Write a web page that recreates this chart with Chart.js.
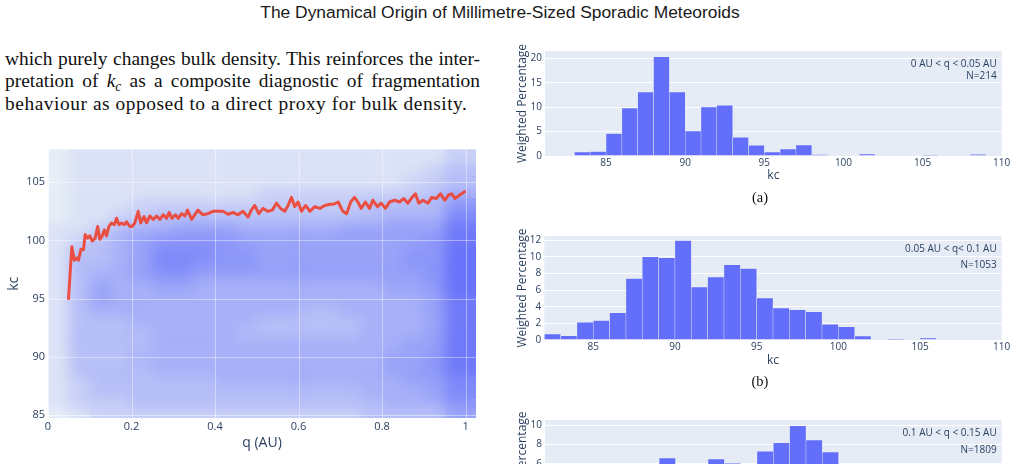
<!DOCTYPE html>
<html>
<head>
<meta charset="utf-8">
<script src="https://cdn.jsdelivr.net/npm/chart.js@4.4.1/dist/chart.umd.min.js"></script>
<style>
  html, body { margin: 0; padding: 0; background: #fff; }
  body { width: 1016px; height: 464px; overflow: hidden; position: relative; }
  canvas { position: absolute; }
  #title { position: absolute; left: 0; top: 2px; width: 1000px; text-align: center;
           font: 17.4px/20px "Liberation Sans", sans-serif; color: #1a1a1a; }
  .ln { position: absolute; left: 5px; white-space: nowrap; color: #111;
        font: 19.4px/22px "Liberation Serif", serif; }
  .just { text-align: justify; text-align-last: justify; }
  .ln sub { font-size: 70%; line-height: 0; vertical-align: -0.3em; }
  .cap { position: absolute; width: 60px; text-align: center; font: 14.5px/16px "Liberation Serif", serif; color: #111; }
</style>
</head>
<body>
<div id="title">The Dynamical Origin of Millimetre-Sized Sporadic Meteoroids</div>
<div class="ln just" style="top:47.5px;width:475px">which purely changes bulk density. This reinforces the inter-</div>
<div class="ln just" style="top:70px;width:475px">pretation of <i>k</i><sub><i>c</i></sub> as a composite diagnostic of fragmentation</div>
<div class="ln" style="top:92.5px;letter-spacing:0.55px">behaviour as opposed to a direct proxy for bulk density.</div>

<canvas id="scatter" width="480" height="324" style="left:0;top:140px"></canvas>
<canvas id="histA" width="506" height="150" style="left:510px;top:40px"></canvas>
<canvas id="histB" width="506" height="150" style="left:510px;top:225px"></canvas>
<canvas id="histC" width="506" height="150" style="left:510px;top:405px"></canvas>
<div class="cap" style="left:730px;top:189px">(a)</div>
<div class="cap" style="left:730px;top:372.5px">(b)</div>

<script>
// ---- scatter: kc against q ----
const qTicks = [0, 0.2, 0.4, 0.6, 0.8, 1];
const kcTicks = [85, 90, 95, 100, 105];

// density of the point cloud, read by eye (0 = empty .. 9 = saturated)
// columns: q cells 0.05 wide, rows: kc cells 1 wide
const gridQ = [0.025, 0.075, 0.125, 0.175, 0.225, 0.275, 0.325, 0.375, 0.425, 0.475,
               0.525, 0.575, 0.625, 0.675, 0.725, 0.775, 0.825, 0.875, 0.925, 0.975, 1.025];
const gridKc = [108, 107, 106, 105, 104, 103, 102, 101, 100, 99, 98, 97,
                96, 95, 94, 93, 92, 91, 90, 89, 88, 87, 86, 85];
const density = [
  '011111111111111111122',
  '011111111111111111122',
  '011111111111111111233',
  '011111111111111112233',
  '011111111122222222344',
  '011122222222222333366',
  '011223333333333344477',
  '112344555444445555588',
  '123456666555555555688',
  '133457776655555556699',
  '133457766655555556699',
  '134456655555555555699',
  '135445544444444455699',
  '135444444444444444588',
  '134444444444334444588',
  '133344444433333444588',
  '133334444333333444588',
  '133334444444444445588',
  '133344444444444455688',
  '133334444444444455688',
  '123333334444444445577',
  '123333333333333444577',
  '122233333333333344466',
  '012222222222222333355'
];

// running upper envelope (red line)
const lineQ = [0.049, 0.057, 0.063, 0.069, 0.073, 0.079, 0.085, 0.089, 0.095, 0.100,
  0.106, 0.113, 0.119, 0.124, 0.130, 0.135, 0.140, 0.146, 0.152, 0.159,
  0.164, 0.170, 0.176, 0.183, 0.188, 0.196, 0.201, 0.208, 0.216, 0.222,
  0.230, 0.236, 0.244, 0.252, 0.260, 0.268, 0.276, 0.284, 0.290, 0.297,
  0.305, 0.312, 0.320, 0.328, 0.334, 0.344, 0.359, 0.371, 0.383, 0.395,
  0.407, 0.419, 0.431, 0.443, 0.455, 0.467, 0.479, 0.487, 0.495, 0.505,
  0.515, 0.526, 0.537, 0.547, 0.557, 0.567, 0.575, 0.583, 0.591, 0.599,
  0.607, 0.617, 0.627, 0.639, 0.651, 0.663, 0.675, 0.683, 0.695, 0.706,
  0.715, 0.725, 0.734, 0.742, 0.750, 0.760, 0.770, 0.778, 0.789, 0.798,
  0.808, 0.818, 0.830, 0.842, 0.852, 0.862, 0.872, 0.880, 0.888, 0.898,
  0.910, 0.919, 0.930, 0.940, 0.950, 0.959, 0.967, 0.975, 0.986, 0.994, 1.000];
const lineKc = [94.9, 99.45, 98.3, 98.5, 98.3, 99.25, 99.2, 100.5, 100.2, 100.4,
  99.95, 100.2, 101.2, 100.1, 100.4, 100.9, 100.4, 101.2, 101.5, 101.35,
  101.9, 101.35, 101.5, 101.35, 101.6, 101.2, 101.2, 101.5, 102.5, 101.5,
  102.05, 101.5, 102.1, 101.8, 102.1, 101.8, 102.2, 101.9, 102.4, 101.9,
  102.2, 101.9, 102.3, 102.1, 102.6, 101.8, 102.6, 102.2, 102.3, 102.5,
  102.5, 102.5, 102.25, 102.4, 102.2, 102.5, 102.0, 102.6, 103.0, 102.3,
  102.75, 102.5, 102.6, 103.2, 102.75, 102.5, 103.0, 103.7, 102.9, 103.3,
  102.5, 103.0, 102.5, 102.9, 102.75, 103.0, 103.1, 103.1, 103.3, 102.5,
  102.3, 103.3, 103.7, 103.3, 102.75, 103.3, 102.75, 103.45, 102.9, 103.2,
  102.75, 103.3, 103.45, 103.3, 103.6, 103.2, 103.7, 104.0, 103.2, 103.45,
  103.2, 103.7, 103.6, 104.0, 103.45, 103.9, 104.0, 103.6, 103.9, 104.1, 104.25];

// ---- histograms of kc, weighted percentage per 1-unit bin ----
const kcHistTicks = [85, 90, 95, 100, 105, 110];
const binsA = [83, 84, 85, 86, 87, 88, 89, 90, 91, 92, 93, 94, 95, 96, 97, 98, 101, 105, 108];
const pctA  = [0.8, 0.9, 4.6, 9.8, 13.1, 20.3, 13.1, 5.1, 10.0, 10.4, 3.8, 2.2, 0.8, 1.4, 2.25, 0.3, 0.4, 0.1, 0.35];
const binsB = [82, 83, 84, 85, 86, 87, 88, 89, 90, 91, 92, 93, 94, 95, 96, 97, 98, 99, 100, 101, 103, 105];
const pctB  = [0.72, 0.5, 2.13, 2.33, 3.26, 7.37, 9.99, 9.87, 11.96, 6.36, 7.57, 9.02, 8.58, 5.03,
               3.83, 3.62, 3.38, 1.89, 1.57, 0.48, 0.05, 0.24];
const binsC = [82, 83, 84, 85, 86, 87, 88, 89, 90, 91, 92, 93, 94, 95, 96, 97, 98, 99, 100, 101, 102, 103, 104, 105];
const pctC  = [0.3, 0.5, 1.0, 1.5, 2.5, 3.8, 5.0, 6.6, 5.2, 5.5, 6.5, 6.05, 5.8, 7.3, 8.17, 9.93,
               8.45, 7.2, 5.0, 3.0, 1.5, 0.6, 0.3, 0.2];
const ticksA = [0, 5, 10, 15, 20];
const ticksB = [0, 2, 4, 6, 8, 10, 12];
const ticksC = [0, 2, 4, 6, 8, 10];

Chart.defaults.font.family = '"Open Sans", sans-serif';
Chart.defaults.color = '#2a3f5f';
Chart.defaults.animation = false;
Chart.defaults.plugins.legend.display = false;
Chart.defaults.plugins.tooltip.enabled = false;

const fixTicks = list => scale => { scale.ticks = list.map(v => ({ value: v })); };

const plotBg = {
  id: 'plotBg',
  beforeDraw(chart) {
    const { ctx, chartArea: a } = chart;
    ctx.save();
    ctx.fillStyle = '#E5ECF6';
    ctx.fillRect(a.left, a.top, a.right - a.left, a.bottom - a.top);
    ctx.restore();
  }
};

// soften the blocky density cells, then put the grid back faintly
const smoothCloud = {
  id: 'smoothCloud',
  afterDatasetDraw(chart, args) {
    if (args.index !== 0) return;
    const { ctx, chartArea: a, canvas, scales } = chart;
    const w = a.right - a.left, h = a.bottom - a.top;
    ctx.save();
    ctx.beginPath();
    ctx.rect(a.left, a.top, w, h);
    ctx.clip();
    ctx.filter = 'blur(7px)';
    ctx.drawImage(canvas, a.left, a.top, w, h, a.left, a.top, w, h);
    ctx.filter = 'none';
    ctx.strokeStyle = 'rgba(255,255,255,0.4)';
    ctx.lineWidth = 1;
    scales.x.ticks.forEach(t => {
      const p = Math.round(scales.x.getPixelForValue(t.value)) + 0.5;
      ctx.beginPath(); ctx.moveTo(p, a.top); ctx.lineTo(p, a.bottom); ctx.stroke();
    });
    scales.y.ticks.forEach(t => {
      const p = Math.round(scales.y.getPixelForValue(t.value)) + 0.5;
      ctx.beginPath(); ctx.moveTo(a.left, p); ctx.lineTo(a.right, p); ctx.stroke();
    });
    ctx.restore();
  }
};

const levelAlpha = [0, 0.08, 0.22, 0.36, 0.47, 0.58, 0.68, 0.78, 0.9, 0.97];
const cellCache = {};
function cellImage(chart, level) {
  const x = chart.scales.x, y = chart.scales.y;
  const w = Math.ceil(Math.abs(x.getPixelForValue(gridQ[1]) - x.getPixelForValue(gridQ[0])));
  const h = Math.ceil(Math.abs(y.getPixelForValue(gridKc[0]) - y.getPixelForValue(gridKc[1])));
  const key = w + 'x' + h + ':' + level;
  if (!cellCache[key]) {
    const c = document.createElement('canvas');
    c.width = w; c.height = h;
    const g = c.getContext('2d');
    g.fillStyle = 'rgba(99,110,250,' + levelAlpha[level] + ')';
    g.fillRect(0, 0, w, h);
    cellCache[key] = c;
  }
  return cellCache[key];
}

const cloud = [];
gridKc.forEach((kc, r) => {
  gridQ.forEach((q, c) => {
    const v = Number(density[r][c]);
    if (v > 0) cloud.push({ x: q, y: kc, v: v });
  });
});

new Chart(document.getElementById('scatter'), {
  type: 'scatter',
  data: {
    datasets: [
      {
        data: cloud,
        order: 2,
        clip: 0,
        pointRadius: 12,
        pointStyle: ctx => cellImage(ctx.chart, ctx.raw.v)
      },
      {
        data: lineQ.map((q, i) => ({ x: q, y: lineKc[i] })),
        order: 1,
        showLine: true,
        pointRadius: 0,
        borderColor: 'rgba(236,72,56,0.95)',
        borderWidth: 3,
        borderJoinStyle: 'round'
      }
    ]
  },
  options: {
    responsive: false,
    events: [],
    layout: { autoPadding: false, padding: { top: 4, right: 4, left: 0, bottom: 0 } },
    scales: {
      x: {
        type: 'linear', min: 0, max: 1.025,
        afterBuildTicks: fixTicks(qTicks),
        afterFit: s => { s.height = 46; },
        grid: { color: '#ffffff', drawTicks: false },
        border: { display: false },
        ticks: { padding: 2, font: { size: 11 }, callback: v => String(v) },
        title: { display: true, text: 'q (AU)', font: { size: 14 }, padding: { top: 0, bottom: 12.5 } }
      },
      y: {
        type: 'linear', min: 84.75, max: 107.8,
        afterBuildTicks: fixTicks(kcTicks),
        afterFit: s => { s.width = 48; },
        grid: { color: '#ffffff', drawTicks: false },
        border: { display: false },
        ticks: { padding: 3, font: { size: 11 } },
        title: { display: true, text: 'kc', font: { size: 14 }, padding: { top: 5.5, bottom: 0 } }
      }
    }
  },
  plugins: [plotBg, smoothCloud]
});

// annotation text in the top-right corner of each histogram
const note = {
  id: 'note',
  afterDraw(chart, args, opts) {
    const { ctx, chartArea: a } = chart;
    ctx.save();
    ctx.font = '10px "Open Sans", sans-serif';
    ctx.fillStyle = '#2a3f5f';
    ctx.textAlign = 'right';
    ctx.textBaseline = 'middle';
    opts.lines.forEach((t, i) => ctx.fillText(t, a.right - 5, a.top + opts.ys[i]));
    ctx.restore();
  }
};

function histogram(id, bins, pct, yTicks, g) {
  new Chart(document.getElementById(id), {
    type: 'bar',
    data: {
      datasets: [{
        data: bins.map((b, i) => ({ x: b + 0.5, y: pct[i] })),
        backgroundColor: '#636EFA',
        borderColor: '#E5ECF6',
        borderWidth: 0.5,
        borderSkipped: false,
        barPercentage: 1,
        categoryPercentage: 1
      }]
    },
    options: {
      responsive: false,
      events: [],
      layout: { autoPadding: false, padding: { top: g.top, right: g.right, left: 0, bottom: 0 } },
      scales: {
        x: {
          type: 'linear', min: g.xmin, max: 110, offset: false,
          afterBuildTicks: fixTicks(kcHistTicks),
          afterFit: s => { s.height = g.xh; },
          grid: { display: false, drawTicks: false, offset: false },
          border: { display: false },
          ticks: { padding: 1, font: { size: 10 } },
          title: { display: true, text: 'kc', font: { size: 12 }, padding: { top: 0, bottom: 7 } }
        },
        y: {
          type: 'linear', min: 0, max: g.ymax,
          afterBuildTicks: fixTicks(yTicks),
          afterFit: s => { s.width = g.yw; },
          grid: { color: '#ffffff', drawTicks: false },
          border: { display: false },
          ticks: { padding: 3, font: { size: 10 } },
          title: { display: true, text: 'Weighted Percentage', font: { size: 12 }, padding: { top: 5, bottom: 0 } }
        }
      },
      plugins: { note: { lines: g.note, ys: g.noteY } }
    },
    plugins: [plotBg, note]
  });
}

histogram('histA', binsA, pctA, ticksA,
  { top: 11, right: 14.3, xh: 34, yw: 35, xmin: 81.14, ymax: 21.5,
    note: ['0 AU < q < 0.05 AU', 'N=214'], noteY: [13, 25] });
histogram('histB', binsB, pctB, ticksB,
  { top: 11, right: 14.3, xh: 35, yw: 34.3, xmin: 82, ymax: 12.5,
    note: ['0.05 AU < q< 0.1 AU', 'N=1053'], noteY: [13, 29] });
histogram('histC', binsC, pctC, ticksC,
  { top: 15, right: 14.3, xh: 33, yw: 35, xmin: 82, ymax: 10.52,
    note: ['0.1 AU < q < 0.15 AU', 'N=1809'], noteY: [13, 30] });
</script>
</body>
</html>
